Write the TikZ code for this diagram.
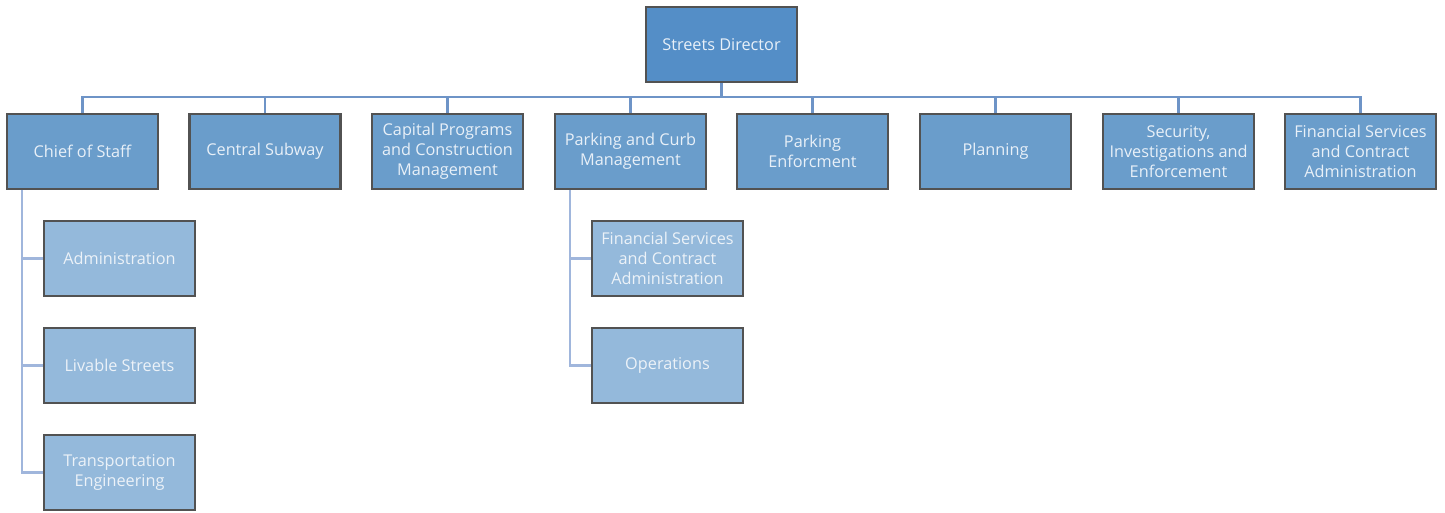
\documentclass[tikz,border=0pt]{standalone}
\usepackage{fontspec}
\setmainfont{Open Sans}
\begin{document}
\begin{tikzpicture}[x=0.75pt,y=-0.75pt,
  every node/.style={font=\fontsize{12.2}{15}\selectfont, align=center},
  topbox/.style={draw=black!68, line width=1.6pt, fill=topfill, text=textwhite, minimum width=113.25pt, minimum height=56.25pt, inner sep=0pt},
  lvlbox/.style={draw=black!68, line width=1.6pt, fill=lvlfill, text=textwhite, minimum width=113.25pt, minimum height=56.25pt, inner sep=0pt},
  subbox/.style={draw=black!68, line width=1.6pt, fill=subfill, text=subtext, minimum width=113.25pt, minimum height=56.25pt, inner sep=0pt},
  busline/.style={draw=busblue, line width=1.6pt},
  subline/.style={draw=sublineblue, line width=1.6pt}
]
\definecolor{topfill}{RGB}{84,142,199}
\definecolor{lvlfill}{RGB}{106,157,203}
\definecolor{subfill}{RGB}{148,185,219}
\definecolor{textwhite}{RGB}{232,240,248}
\definecolor{subtext}{RGB}{236,242,248}
\definecolor{busblue}{RGB}{110,148,199}
\definecolor{sublineblue}{RGB}{160,182,220}
\useasboundingbox (0,0) rectangle (1445,512);

\coordinate (bus) at (721.5,97);
\node[topbox] (dir) at (721.5,44.5) {Streets Director};

\node[lvlbox] (cos) at (82.5,151.5) {Chief of Staff};
\node[lvlbox] (cs) at (265,151.5) {Central Subway};
\node[lvlbox] (cp) at (447.5,151.5) {Capital Programs\\and Construction\\Management};
\node[lvlbox] (pc) at (630.5,151.5) {Parking and Curb\\Management};
\node[lvlbox] (pe) at (812.5,151.5) {Parking\\Enforcment};
\node[lvlbox] (pl) at (995.5,151.5) {Planning};
\node[lvlbox] (si) at (1178.5,151.5) {Security,\\Investigations and\\Enforcement};
\node[lvlbox] (fs) at (1360.5,151.5) {Financial Services\\and Contract\\Administration};

\node[subbox] (adm) at (119.5,258.5) {Administration};
\node[subbox] (ls) at (119.5,365.5) {Livable Streets};
\node[subbox] (te) at (119.5,472.5) {Transportation\\Engineering};

\node[subbox] (fs2) at (667.5,258.5) {Financial Services\\and Contract\\Administration};
\node[subbox] (ops) at (667.5,365.5) {Operations};

\draw[busline] (dir.south) -- (bus);
\foreach \n in {cos,cs,cp,pc,pe,pl,si,fs}{
  \draw[busline] (\n.north) |- (bus);
}
\foreach \n in {adm,ls,te}{
  \draw[subline] (cos.south -| 22,0) |- (\n.west);
}
\foreach \n in {fs2,ops}{
  \draw[subline] (pc.south -| 570,0) |- (\n.west);
}
\end{tikzpicture}
\end{document}
